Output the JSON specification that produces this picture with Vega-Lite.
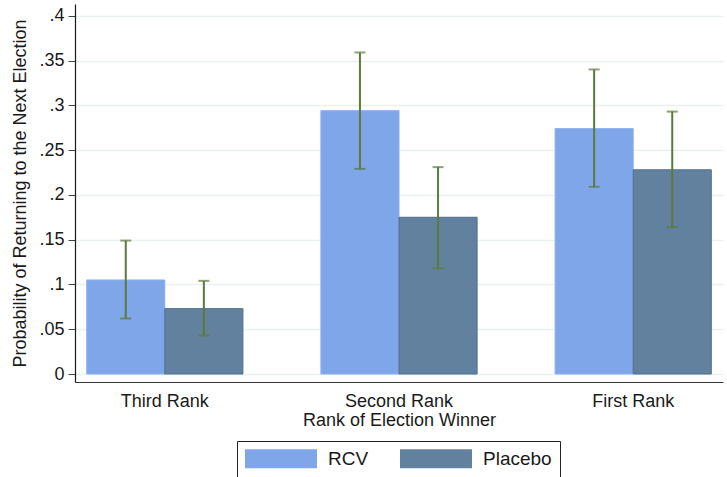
{
  "$schema": "https://vega.github.io/schema/vega-lite/v6.json",
  "autosize": "none",
  "width": 648,
  "height": 378,
  "padding": {"left": 75, "top": 4, "right": 4, "bottom": 95},
  "background": "white",
  "config": {
    "font": "Liberation Sans",
    "view": {"stroke": null},
    "axis": {"labelColor": "#1a1a1a", "titleColor": "#1a1a1a", "titleFontWeight": "normal", "labelFont": "Liberation Sans", "titleFont": "Liberation Sans"}
  },
  "data": {
    "values": [
      {"rank": "Third Rank", "group": "RCV", "prob": 0.105, "lo": 0.062, "hi": 0.149},
      {"rank": "Third Rank", "group": "Placebo", "prob": 0.073, "lo": 0.043, "hi": 0.104},
      {"rank": "Second Rank", "group": "RCV", "prob": 0.294, "lo": 0.229, "hi": 0.359},
      {"rank": "Second Rank", "group": "Placebo", "prob": 0.175, "lo": 0.118, "hi": 0.231},
      {"rank": "First Rank", "group": "RCV", "prob": 0.274, "lo": 0.209, "hi": 0.340},
      {"rank": "First Rank", "group": "Placebo", "prob": 0.228, "lo": 0.164, "hi": 0.293}
    ]
  },
  "encoding": {
    "x": {
      "field": "rank", "type": "nominal",
      "sort": ["Third Rank", "Second Rank", "First Rank"],
      "scale": {"paddingInner": 0.333, "paddingOuter": 0.05},
      "axis": {
        "title": "Rank of Election Winner", "labelAngle": 0, "ticks": false, "tickSize": 0,
        "labelPadding": 10, "labelFontSize": 18, "titleFontSize": 18, "titlePadding": 1,
        "domainColor": "#333333", "domainWidth": 1.2, "grid": false
      }
    },
    "xOffset": {
      "field": "group", "type": "nominal", "sort": ["RCV", "Placebo"],
      "scale": {"paddingInner": 0, "paddingOuter": 0}
    }
  },
  "layer": [
    {
      "mark": {"type": "bar", "strokeWidth": 1},
      "encoding": {
        "y": {
          "field": "prob", "type": "quantitative",
          "scale": {"domain": [-0.0089, 0.4131], "nice": false, "zero": false},
          "axis": {
            "title": "Probability of Returning to the Next Election",
            "values": [0, 0.05, 0.1, 0.15, 0.2, 0.25, 0.3, 0.35, 0.4],
            "labelExpr": "datum.value == 0 ? '0' : replace(format(datum.value, '.2~f'), '0.', '.')",
            "labelFontSize": 18, "titleFontSize": 18, "tickSize": 7, "labelPadding": 4,
            "titlePadding": 9, "tickColor": "#444444", "domainColor": "#1a1a1a", "domainWidth": 1.2,
            "grid": true, "gridColor": "#eaf1f3", "gridWidth": 1.5
          }
        },
        "y2": {"datum": 0},
        "color": {
          "field": "group", "type": "nominal",
          "sort": ["RCV", "Placebo"],
          "scale": {"domain": ["RCV", "Placebo"], "range": ["#80a6ea", "#62819f"]},
          "legend": {
            "title": null, "orient": "none", "legendX": 162, "legendY": 437,
            "direction": "horizontal", "strokeColor": "#222222", "padding": 8,
            "symbolType": "M-3.79,-1H3.79V1H-3.79Z", "symbolSize": 361,
            "symbolOffset": 26.5,
            "symbolStrokeWidth": 0, "symbolOpacity": 1,
            "labelFontSize": 19, "labelOffset": 37.5, "columnPadding": 30,
            "labelColor": "#1a1a1a", "labelFont": "Liberation Sans"
          }
        },
        "stroke": {
          "field": "group", "type": "nominal",
          "scale": {"domain": ["RCV", "Placebo"], "range": ["#8bb0f0", "#4f6e8e"]},
          "legend": null
        }
      }
    },
    {
      "mark": {"type": "rule", "color": "#5b7a3b", "strokeWidth": 2},
      "encoding": {
        "y": {"field": "lo", "type": "quantitative"},
        "y2": {"field": "hi"}
      }
    },
    {
      "mark": {"type": "tick", "color": "#5b7a3b", "thickness": 2, "size": 11},
      "encoding": {"y": {"field": "lo", "type": "quantitative"}}
    },
    {
      "mark": {"type": "tick", "color": "#5b7a3b", "thickness": 2, "size": 11},
      "encoding": {"y": {"field": "hi", "type": "quantitative"}}
    }
  ]
}
